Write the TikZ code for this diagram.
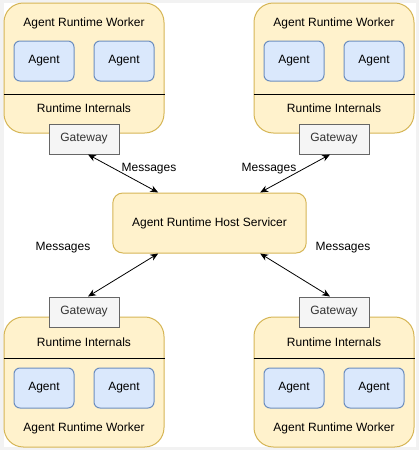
\documentclass[tikz,border=0pt]{standalone}
\usepackage{fontspec}
\setmainfont{Liberation Sans}
\usetikzlibrary{arrows.meta}

\definecolor{workerfill}{HTML}{FFF2CC}
\definecolor{workerdraw}{HTML}{D6B656}
\definecolor{agentfill}{HTML}{DAE8FC}
\definecolor{agentdraw}{HTML}{6C8EBF}
\definecolor{gatefill}{HTML}{F5F5F5}
\definecolor{gatedraw}{HTML}{666666}
\definecolor{gatetext}{HTML}{333333}
\definecolor{pagegray}{HTML}{F2F2F2}

\tikzset{
  worker/.style={fill=workerfill, draw=workerdraw, rounded corners=14.5pt, minimum width=120pt, minimum height=97.5pt, line width=0.75pt},
  agent/.style={fill=agentfill, draw=agentdraw, rounded corners=4.5pt, minimum width=45pt, minimum height=30pt, line width=0.75pt},
  gateway/.style={fill=gatefill, draw=gatedraw, text=gatetext, minimum width=52.5pt, minimum height=22.5pt, line width=0.75pt},
  host/.style={fill=workerfill, draw=workerdraw, rounded corners=7.5pt, minimum width=145pt, minimum height=45pt, line width=0.75pt},
  label/.style={inner sep=0pt},
  msg/.style={{Stealth[length=6pt,width=5pt]}-{Stealth[length=6pt,width=5pt]}, line width=0.6pt},
  sep/.style={line width=0.75pt}
}

\begin{document}
\begin{tikzpicture}[x=0.75pt, y=-0.75pt, font=\fontsize{9}{11}\selectfont]
\useasboundingbox (0,0) rectangle (419,450);
\fill[pagegray] (0,0) rectangle (419,450);
\fill[white] (4,3) rectangle (416,447);

% top workers
\node[worker] (w1) at (84,68) {};
\node[label] (w1t) at (84,23) {Agent Runtime Worker};
\node[agent] (w1a) at (44,61) {Agent};
\node[agent] (w1b) at (124,61) {Agent};
\draw[sep] (w1.west |- 0,94) -- (w1.east |- 0,94);
\node[label] (w1i) at (84,108) {Runtime Internals};
\node[gateway] (g1) at (84,139) {Gateway};

\node[worker] (w2) at (334,68) {};
\node[label] (w2t) at (334,23) {Agent Runtime Worker};
\node[agent] (w2a) at (294,61) {Agent};
\node[agent] (w2b) at (374,61) {Agent};
\draw[sep] (w2.west |- 0,94) -- (w2.east |- 0,94);
\node[label] (w2i) at (334,108) {Runtime Internals};
\node[gateway] (g2) at (334,139) {Gateway};

% host
\node[host] (host) at (209.5,223) {Agent Runtime Host Servicer};

% bottom workers
\node[worker] (w3) at (84,382) {};
\node[label] (w3i) at (84,342) {Runtime Internals};
\draw[sep] (w3.west |- 0,358) -- (w3.east |- 0,358);
\node[agent] (w3a) at (44,388) {Agent};
\node[agent] (w3b) at (124,388) {Agent};
\node[label] (w3t) at (84,428) {Agent Runtime Worker};
\node[gateway] (g3) at (84,312) {Gateway};

\node[worker] (w4) at (334,382) {};
\node[label] (w4i) at (334,342) {Runtime Internals};
\draw[sep] (w4.west |- 0,358) -- (w4.east |- 0,358);
\node[agent] (w4a) at (294,388) {Agent};
\node[agent] (w4b) at (374,388) {Agent};
\node[label] (w4t) at (334,428) {Agent Runtime Worker};
\node[gateway] (g4) at (334,312) {Gateway};

% messages
\draw[msg] ([xshift=3pt]g1.south) -- ([xshift=-38.5pt]host.north);
\draw[msg] ([xshift=-3pt]g2.south) -- ([xshift=38pt]host.north);
\draw[msg] ([xshift=-38.5pt]host.south) -- ([xshift=3pt]g3.north);
\draw[msg] ([xshift=38pt]host.south) -- ([xshift=-3pt]g4.north);

\node[label] (m1) at (149,169) {Messages};
\node[label] (m2) at (269,169) {Messages};
\node[label] (m3) at (63,248) {Messages};
\node[label] (m4) at (343,248) {Messages};
\end{tikzpicture}
\end{document}
